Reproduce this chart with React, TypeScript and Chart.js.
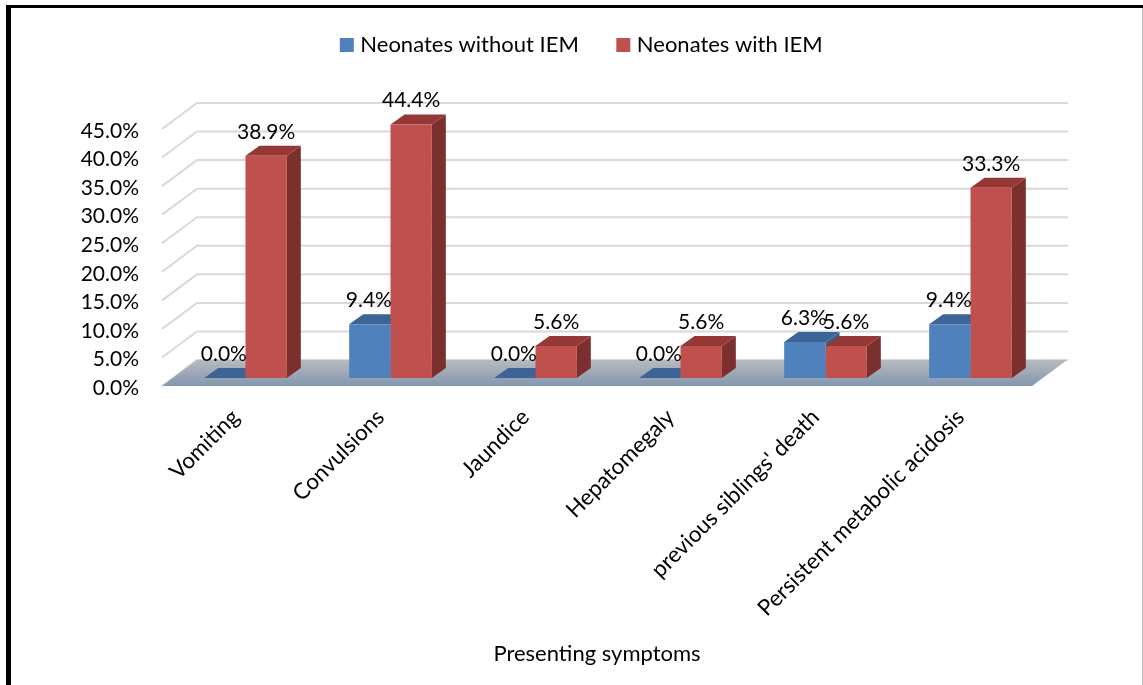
import React, { useEffect, useRef } from "react";
import { Chart, registerables } from "chart.js";

Chart.register(...registerables);

const categories = ["Vomiting", "Convulsions", "Jaundice", "Hepatomegaly", "previous siblings' death", "Persistent metabolic acidosis"];
const withoutIEM = [0, 9.4, 0, 0, 6.3, 9.4];
const withIEM = [38.9, 44.4, 5.6, 5.6, 5.6, 33.3];
const seriesNames = ["Neonates without IEM", "Neonates with IEM"];
const axisTitle = "Presenting symptoms";

const FAMILY = "Lato";
const FONT = { family: FAMILY, size: 21 };
const TEXT_FONT = { family: FAMILY, size: 22 };
const XTICK_FONT = { family: FAMILY, size: 22.3 };
const FRONT = ["#4F81BD", "#C0504D"];
const TOP = ["#3C6494", "#953735"];
const SIDE = ["#385D8A", "#7B302E"];
const WALL = { dx: 35, dy: 26 };
const BAR_SHIFT = { dx: 11, dy: 8 };
const BAR_DEPTH = { dx: 14, dy: 10 };

const poly = (ctx: CanvasRenderingContext2D, pts: number[][], fill: string | CanvasGradient) => {
  ctx.beginPath();
  pts.forEach(([x, y], i) => (i ? ctx.lineTo(x, y) : ctx.moveTo(x, y)));
  ctx.closePath();
  ctx.fillStyle = fill;
  ctx.fill();
};

const scene3d = {
  id: "scene3d",
  beforeDatasetsDraw(chart: any) {
    const { ctx, chartArea: a, scales } = chart;
    const y = scales.y;
    ctx.save();
    ctx.strokeStyle = "#D9D9D9";
    ctx.lineWidth = 2;
    y.ticks.forEach((t: any) => {
      const py = y.getPixelForValue(t.value);
      ctx.beginPath();
      ctx.moveTo(a.left, py);
      ctx.lineTo(a.left + WALL.dx, py - WALL.dy);
      ctx.lineTo(a.right + WALL.dx + 1, py - WALL.dy);
      ctx.stroke();
    });
    const grad = ctx.createLinearGradient(0, a.bottom - WALL.dy, 0, a.bottom);
    grad.addColorStop(0, "#B7BAC0");
    grad.addColorStop(1, "#8497AF");
    poly(ctx, [[a.left, a.bottom], [a.right, a.bottom], [a.right + WALL.dx, a.bottom - WALL.dy], [a.left + WALL.dx, a.bottom - WALL.dy]], grad);
    ctx.restore();

    ctx.save();
    ctx.translate(BAR_SHIFT.dx, -BAR_SHIFT.dy);
    categories.forEach((_, i) => {
      [0, 1].forEach((ds) => {
        const b = chart.getDatasetMeta(ds).data[i];
        const l = b.x - b.width / 2, r = b.x + b.width / 2;
        const d = BAR_DEPTH;
        poly(ctx, [[r, b.y], [r, b.base], [r + d.dx, b.base - d.dy], [r + d.dx, b.y - d.dy]], SIDE[ds]);
        poly(ctx, [[l, b.y], [r, b.y], [r + d.dx, b.y - d.dy], [l + d.dx, b.y - d.dy]], TOP[ds]);
      });
    });
  },
  afterDatasetsDraw(chart: any) {
    const { ctx } = chart;
    ctx.restore();
    ctx.save();
    ctx.font = `${FONT.size}px ${FONT.family}`;
    ctx.fillStyle = "#000";
    ctx.textAlign = "center";
    ctx.textBaseline = "middle";
    [0, 1].forEach((ds) => {
      chart.getDatasetMeta(ds).data.forEach((b: any, i: number) => {
        const v = chart.data.datasets[ds].data[i];
        ctx.fillText(`${v.toFixed(1)}%`, b.x + BAR_SHIFT.dx - (ds === 0 ? 1 : 0), b.y - BAR_SHIFT.dy - 24);
      });
    });
    ctx.restore();
  },
};

export default function App() {
  const ref = useRef<HTMLCanvasElement>(null);
  useEffect(() => {
    const chart = new Chart(ref.current!, {
      type: "bar",
      plugins: [scene3d],
      data: {
        labels: categories,
        datasets: [
          { label: seriesNames[0], data: withoutIEM, backgroundColor: FRONT[0], borderWidth: 0, categoryPercentage: 0.57, barPercentage: 1, clip: false },
          { label: seriesNames[1], data: withIEM, backgroundColor: FRONT[1], borderWidth: 0, categoryPercentage: 0.57, barPercentage: 1, clip: false },
        ],
      } as any,
      options: {
        animation: false,
        responsive: false,
        devicePixelRatio: 1,
        layout: { autoPadding: false, padding: { left: 24, right: 0, top: -8, bottom: 0 } },
        plugins: {
          tooltip: { enabled: false },
          legend: {
            position: "top",
            labels: {
              font: TEXT_FONT,
              color: "#000",
              boxWidth: 5,
              boxHeight: 5,
              padding: 42,
              generateLabels: (c: any) =>
                Chart.defaults.plugins.legend.labels.generateLabels(c).map((l: any, i: number) => ({
                  ...l,
                  fillStyle: FRONT[i],
                  strokeStyle: FRONT[i],
                  lineWidth: 9,
                })),
            },
          },
        },
        scales: {
          x: {
            grid: { display: false },
            border: { display: false },
            ticks: { font: XTICK_FONT, color: "#000", minRotation: 45, maxRotation: 45, autoSkip: false, padding: 10, labelOffset: 1 },
            title: { display: true, text: axisTitle, font: TEXT_FONT, color: "#000", padding: { top: 0, bottom: 18 } },
            afterFit: (s: any) => { s.height = 299; },
          },
          y: {
            min: 0,
            max: 45,
            grid: { display: false },
            border: { display: false },
            ticks: { stepSize: 5, font: FONT, color: "#000", padding: 15, labelOffset: 2, callback: (v: any) => `${Number(v).toFixed(1)}%` },
            afterFit: (s: any) => { s.width = 138; },
          },
          yPad: {
            axis: "y",
            position: "right",
            grid: { display: false },
            border: { display: false },
            ticks: { display: false },
            afterFit: (s: any) => { s.width = 111; },
          },
          xPad: {
            axis: "x",
            type: "category",
            position: "top",
            grid: { display: false },
            border: { display: false },
            ticks: { display: false },
            afterFit: (s: any) => { s.height = 63; },
          },
        },
      } as any,
    });
    return () => chart.destroy();
  }, []);

  return (
    <div style={{ position: "fixed", inset: 0, overflow: "hidden", background: "#fff" }}>
      <canvas ref={ref} width={1143} height={685} style={{ display: "block" }} />
      <div style={{ position: "absolute", left: 6, top: 5, right: 0, height: 3, background: "#000" }} />
      <div style={{ position: "absolute", left: 6, top: 5, bottom: 0, width: 5, background: "#000" }} />
      <div style={{ position: "absolute", right: 0, top: 8, bottom: 0, width: 1, background: "#BDBDBD" }} />
    </div>
  );
}
